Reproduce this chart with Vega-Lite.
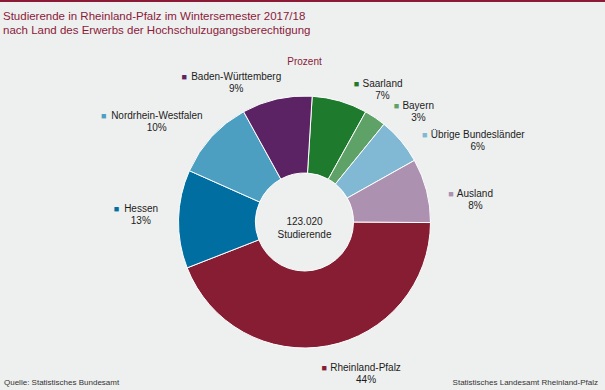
{
  "$schema": "https://vega.github.io/schema/vega-lite/v6.json",
  "width": 613,
  "height": 442,
  "autosize": {"type": "none"},
  "padding": {"left": -2, "top": 1, "right": -6, "bottom": -53},
  "background": "#eef0ef",
  "config": {
    "view": {"stroke": "#8b1a36", "strokeWidth": 2},
    "font": "Liberation Sans",
    "text": {"font": "Liberation Sans"}
  },
  "title": {
    "text": ["Studierende in Rheinland-Pfalz im Wintersemester 2017/18", "nach Land des Erwerbs der Hochschulzugangsberechtigung"],
    "anchor": "start",
    "frame": "group",
    "orient": "top",
    "offset": -35,
    "dx": 5,
    "color": "#8b1a3a",
    "fontSize": 11.5,
    "fontWeight": "normal",
    "font": "Liberation Sans",
    "lineHeight": 13.5
  },
  "data": {
    "values": [
      {"land": "Saarland", "anteil": 7.1, "ord": 1},
      {"land": "Bayern", "anteil": 2.8, "ord": 2},
      {"land": "Übrige Bundesländer", "anteil": 6.0, "ord": 3},
      {"land": "Ausland", "anteil": 8.2, "ord": 4},
      {"land": "Rheinland-Pfalz", "anteil": 44.0, "ord": 5},
      {"land": "Hessen", "anteil": 12.6, "ord": 6},
      {"land": "Nordrhein-Westfalen", "anteil": 10.3, "ord": 7},
      {"land": "Baden-Württemberg", "anteil": 9.0, "ord": 8}
    ]
  },
  "transform": [
    {"window": [{"op": "sum", "field": "anteil", "as": "cum"}], "sort": [{"field": "ord"}]},
    {"calculate": "datum.cum - datum.anteil / 2 + 1", "as": "la"},
    {"calculate": "datum.la < 49 ? 'R' : 'L'", "as": "side"},
    {"calculate": "5.5*length(datum.land) - 3*length(replace(datum.land, regexp('[^ilj]','g'), '')) - 2.5*length(replace(datum.land, regexp('[^trf -]','g'), '')) + 1.5*length(replace(datum.land, regexp('[^A-ZÜ]','g'), '')) + 3*length(replace(datum.land, regexp('[^mW]','g'), ''))", "as": "w"},
    {"calculate": "format(datum.anteil, '.0f') + '%'", "as": "pct"}
  ],
  "layer": [
    {
      "mark": {"type": "arc", "radius": 126, "innerRadius": 49, "stroke": "#ffffff", "strokeWidth": 1},
      "encoding": {
        "theta": {"field": "anteil", "type": "quantitative", "stack": true, "scale": {"domain": [0, 100], "range": [0.061, 6.3442]}},
        "color": {
          "field": "land", "type": "nominal", "legend": null,
          "scale": {
            "domain": ["Saarland", "Bayern", "Übrige Bundesländer", "Ausland", "Rheinland-Pfalz", "Hessen", "Nordrhein-Westfalen", "Baden-Württemberg"],
            "range": ["#1e7a2d", "#5ea267", "#81b9d4", "#ad91b1", "#861d33", "#006ea0", "#4d9fc2", "#5b2363"]
          }
        },
        "order": {"field": "ord", "type": "quantitative"}
      }
    },
    {
      "mark": {"type": "text", "text": "■", "fontSize": 9, "baseline": "middle", "align": "center", "dx": {"expr": "datum.side == 'R' ? 2 : -(datum.w + 7)"}},
      "encoding": {
        "theta": {"field": "la", "type": "quantitative", "stack": null, "scale": {"domain": [0, 100], "range": [0.061, 6.3442]}},
        "radius": {"value": 147},
        "color": {"field": "land", "type": "nominal", "legend": null}
      }
    },
    {
      "transform": [{"filter": "datum.side == 'R'"}],
      "mark": {"type": "text", "fontSize": 10, "baseline": "middle", "align": "left", "dx": 8, "color": "#1c1c1c"},
      "encoding": {
        "theta": {"field": "la", "type": "quantitative", "stack": null, "scale": {"domain": [0, 100], "range": [0.061, 6.3442]}},
        "radius": {"value": 147},
        "text": {"field": "land", "type": "nominal"}
      }
    },
    {
      "transform": [{"filter": "datum.side == 'L'"}],
      "mark": {"type": "text", "fontSize": 10, "baseline": "middle", "align": "right", "dx": 0, "color": "#1c1c1c"},
      "encoding": {
        "theta": {"field": "la", "type": "quantitative", "stack": null, "scale": {"domain": [0, 100], "range": [0.061, 6.3442]}},
        "radius": {"value": 147},
        "text": {"field": "land", "type": "nominal"}
      }
    },
    {
      "mark": {"type": "text", "fontSize": 10, "baseline": "middle", "align": "center", "dy": 12, "color": "#1c1c1c", "dx": {"expr": "datum.side == 'R' ? 8 + datum.w / 2 : -datum.w / 2"}},
      "encoding": {
        "theta": {"field": "la", "type": "quantitative", "stack": null, "scale": {"domain": [0, 100], "range": [0.061, 6.3442]}},
        "radius": {"value": 147},
        "text": {"field": "pct", "type": "nominal"}
      }
    },
    {
      "data": {"values": [{"gesamt": "123.020"}]},
      "mark": {"type": "text", "fontSize": 10, "baseline": "middle", "align": "center", "lineHeight": 13, "color": "#1c1c1c", "text": ["123.020", "Studierende"]},
      "encoding": {}
    },
    {
      "data": {"values": [{"einheit": "Prozent"}]},
      "mark": {"type": "text", "fontSize": 10, "baseline": "middle", "align": "center", "color": "#8b1a3a"},
      "encoding": {
        "theta": {"value": 0},
        "radius": {"value": 160},
        "text": {"field": "einheit", "type": "nominal"}
      }
    },
    {
      "data": {"values": [{"quelle": "Quelle: Statistisches Bundesamt"}]},
      "mark": {"type": "text", "fontSize": 8, "baseline": "middle", "align": "left", "color": "#333333"},
      "encoding": {
        "x": {"value": 6},
        "y": {"value": 382},
        "text": {"field": "quelle", "type": "nominal"}
      }
    },
    {
      "data": {"values": [{"hg": "Statistisches Landesamt Rheinland-Pfalz"}]},
      "mark": {"type": "text", "fontSize": 8, "baseline": "middle", "align": "right", "color": "#333333"},
      "encoding": {
        "x": {"value": 600},
        "y": {"value": 382},
        "text": {"field": "hg", "type": "nominal"}
      }
    }
  ]
}
